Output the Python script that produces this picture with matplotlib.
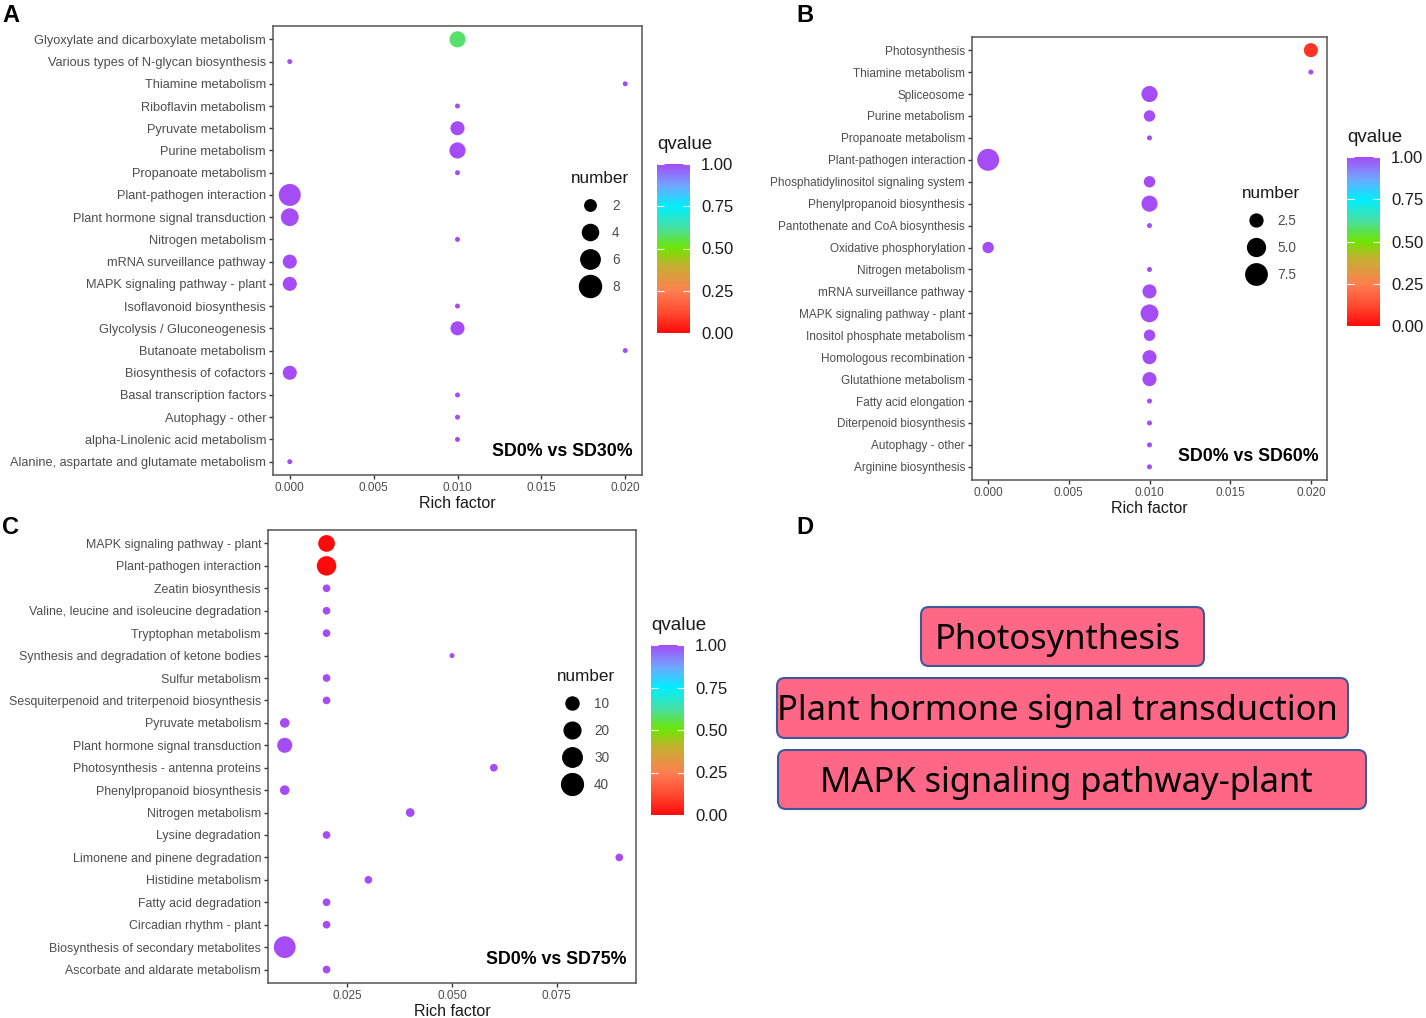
import numpy as np
import matplotlib
matplotlib.use("Agg")
import matplotlib.pyplot as plt
from matplotlib.colors import LinearSegmentedColormap
from matplotlib.cm import ScalarMappable
from matplotlib.colors import Normalize
from matplotlib.patches import FancyBboxPatch
from matplotlib.lines import Line2D

plt.rcParams['font.family'] = ['Liberation Sans', 'DejaVu Sans']

# ---- data (top to bottom as shown) ----
a_terms = ["Glyoxylate and dicarboxylate metabolism", "Various types of N-glycan biosynthesis",
           "Thiamine metabolism", "Riboflavin metabolism", "Pyruvate metabolism", "Purine metabolism",
           "Propanoate metabolism", "Plant-pathogen interaction", "Plant hormone signal transduction",
           "Nitrogen metabolism", "mRNA surveillance pathway", "MAPK signaling pathway - plant",
           "Isoflavonoid biosynthesis", "Glycolysis / Gluconeogenesis", "Butanoate metabolism",
           "Biosynthesis of cofactors", "Basal transcription factors", "Autophagy - other",
           "alpha-Linolenic acid metabolism", "Alanine, aspartate and glutamate metabolism"]
a_rich = [0.010, 0.000, 0.020, 0.010, 0.010, 0.010, 0.010, 0.000, 0.000, 0.010,
          0.000, 0.000, 0.010, 0.010, 0.020, 0.000, 0.010, 0.010, 0.010, 0.000]
a_number = [4, 1, 1, 1, 3, 4, 1, 8, 5, 1, 3, 3, 1, 3, 1, 3, 1, 1, 1, 1]
a_q = [0.58, 1, 1, 1, 1, 1, 1, 1, 1, 1, 1, 1, 1, 1, 1, 1, 1, 1, 1, 1]

b_terms = ["Photosynthesis", "Thiamine metabolism", "Spliceosome", "Purine metabolism",
           "Propanoate metabolism", "Plant-pathogen interaction", "Phosphatidylinositol signaling system",
           "Phenylpropanoid biosynthesis", "Pantothenate and CoA biosynthesis", "Oxidative phosphorylation",
           "Nitrogen metabolism", "mRNA surveillance pathway", "MAPK signaling pathway - plant",
           "Inositol phosphate metabolism", "Homologous recombination", "Glutathione metabolism",
           "Fatty acid elongation", "Diterpenoid biosynthesis", "Autophagy - other", "Arginine biosynthesis"]
b_rich = [0.020, 0.020, 0.010, 0.010, 0.010, 0.000, 0.010, 0.010, 0.010, 0.000,
          0.010, 0.010, 0.010, 0.010, 0.010, 0.010, 0.010, 0.010, 0.010, 0.010]
b_number = [3, 1, 4, 2, 1, 8, 2, 4, 1, 2, 1, 3, 5, 2, 3, 3, 1, 1, 1, 1]
b_q = [0.08, 1, 1, 1, 1, 1, 1, 1, 1, 1, 1, 1, 1, 1, 1, 1, 1, 1, 1, 1]

c_terms = ["MAPK signaling pathway - plant", "Plant-pathogen interaction", "Zeatin biosynthesis",
           "Valine, leucine and isoleucine degradation", "Tryptophan metabolism",
           "Synthesis and degradation of ketone bodies", "Sulfur metabolism",
           "Sesquiterpenoid and triterpenoid biosynthesis", "Pyruvate metabolism",
           "Plant hormone signal transduction", "Photosynthesis - antenna proteins",
           "Phenylpropanoid biosynthesis", "Nitrogen metabolism", "Lysine degradation",
           "Limonene and pinene degradation", "Histidine metabolism", "Fatty acid degradation",
           "Circadian rhythm - plant", "Biosynthesis of secondary metabolites",
           "Ascorbate and aldarate metabolism"]
c_rich = [0.020, 0.020, 0.020, 0.020, 0.020, 0.050, 0.020, 0.020, 0.010, 0.010,
          0.060, 0.010, 0.040, 0.020, 0.090, 0.030, 0.020, 0.020, 0.010, 0.020]
c_number = [20, 30, 2, 2, 2, 1, 2, 2, 4, 15, 2, 4, 3, 2, 2, 2, 2, 2, 40, 2]
c_q = [0.0, 0.0, 1, 1, 1, 1, 1, 1, 1, 1, 1, 1, 1, 1, 1, 1, 1, 1, 1, 1]

d_terms = ["Photosynthesis", "Plant hormone signal transduction", "MAPK signaling pathway-plant"]

# ---- styling ----
W, H = 1426, 1018
DPI = 100
qcmap = LinearSegmentedColormap.from_list("qv", [
    (0.00, "#ff0a0a"), (0.12, "#ff4a30"), (0.25, "#ff8050"), (0.40, "#c4b030"),
    (0.50, "#70e400"), (0.62, "#48e0a0"), (0.75, "#00eeff"), (0.87, "#6ea8ff"),
    (1.00, "#a64cf6")])
GREY = "#4d4d4d"


def fr(x0, y0, x1, y1):
    return [x0 / W, 1 - y1 / H, (x1 - x0) / W, (y1 - y0) / H]


def dot_size(n, nmin, nmax):
    d_px = 5 + 17 * np.sqrt((np.asarray(n, float) - nmin) / (nmax - nmin))
    return (d_px * 72 / DPI) ** 2


def bubble_panel(box, terms, rich, number, q, xlim, xticks, xfmt, nmin, nmax,
                 breaks, blabels, leg_xy, tag, cbox, yfs):
    ax = fig.add_axes(fr(*box))
    y = np.arange(len(terms))[::-1]
    ax.scatter(rich, y, s=dot_size(number, nmin, nmax), c=q, cmap=qcmap, vmin=0, vmax=1,
               edgecolors="none", zorder=3)
    ax.set_yticks(y)
    ax.set_yticklabels(terms, fontsize=yfs, color=GREY)
    ax.set_ylim(-0.6, len(terms) - 0.4)
    ax.set_xlim(*xlim)
    ax.set_xticks(xticks)
    ax.set_xticklabels([xfmt % v for v in xticks], fontsize=8.5, color=GREY)
    ax.set_xlabel("Rich factor", fontsize=11.5, color="#1a1a1a", labelpad=1.5)
    ax.tick_params(length=3, width=1, color="#333333", pad=2)
    for sp in ax.spines.values():
        sp.set_color("#555555")
        sp.set_linewidth(1.1)
    ax.text(0.975, 0.033, tag, transform=ax.transAxes, ha="right", va="bottom",
            fontsize=12.8, fontweight="bold", color="black")
    handles = [Line2D([], [], ls="none", marker="o", color="black",
                      markersize=np.sqrt(dot_size(b, nmin, nmax))) for b in breaks]
    leg = ax.legend(handles, blabels, title="number", loc="upper left",
                    bbox_to_anchor=(leg_xy[0] / W, 1 - leg_xy[1] / H),
                    bbox_transform=fig.transFigure, frameon=False, fontsize=9.8,
                    title_fontsize=12.3, handlelength=1.4, handletextpad=0.9,
                    labelspacing=0.95, borderpad=0, borderaxespad=0)
    for t in leg.get_texts():
        t.set_color(GREY)
    leg.get_title().set_color("#1a1a1a")
    # qvalue colourbar
    cax = fig.add_axes(fr(*cbox))
    cb = fig.colorbar(ScalarMappable(norm=Normalize(0, 1), cmap=qcmap), cax=cax,
                      ticks=[0, 0.25, 0.5, 0.75, 1.0])
    cb.outline.set_visible(False)
    cb.ax.set_yticklabels(["0.00", "0.25", "0.50", "0.75", "1.00"], fontsize=12, color="#1a1a1a")
    cb.ax.tick_params(direction="in", color="white", length=5, width=0.8,
                      left=True, right=True, pad=8)
    cax.set_title("qvalue", fontsize=13.5, loc="left", color="#1a1a1a", pad=11)
    return ax


fig = plt.figure(figsize=(W / DPI, H / DPI), dpi=DPI)

bubble_panel((273, 26, 642, 475), a_terms, a_rich, a_number, a_q,
             (-0.001, 0.021), [0.000, 0.005, 0.010, 0.015, 0.020], "%.3f",
             1, 8, [2, 4, 6, 8], ["2", "4", "6", "8"], (571, 171), "SD0% vs SD30%",
             (657, 164, 690, 333), 9.2)
bubble_panel((972, 37, 1327, 480), b_terms, b_rich, b_number, b_q,
             (-0.001, 0.021), [0.000, 0.005, 0.010, 0.015, 0.020], "%.3f",
             1, 8, [2.5, 5.0, 7.5], ["2.5", "5.0", "7.5"], (1242, 186), "SD0% vs SD60%",
             (1347, 157, 1380, 326), 8.5)
bubble_panel((268, 530, 636, 983), c_terms, c_rich, c_number, c_q,
             (0.006, 0.094), [0.025, 0.050, 0.075], "%.3f",
             1, 41, [10, 20, 30, 40], ["10", "20", "30", "40"], (557, 669), "SD0% vs SD75%",
             (651, 645, 684, 815), 8.9)

# panel D: highlighted pathways
axd = fig.add_axes(fr(760, 590, 1380, 830))
axd.set_xlim(760, 1380)
axd.set_ylim(830, 590)
axd.axis("off")
d_boxes = [(921, 607, 1204, 666), (777, 678, 1348, 738), (778, 750, 1366, 809)]
d_text_x = [1058, 1057, 1066]
for term, (x0, y0, x1, y1), tx in zip(d_terms, d_boxes, d_text_x):
    axd.add_patch(FancyBboxPatch((x0, y0), x1 - x0, y1 - y0,
                                 boxstyle="round,pad=0,rounding_size=8",
                                 fc="#ff6787", ec="#3c5a9a", lw=1.5))
    axd.text(tx, (y0 + y1) / 2 + 3.5, term, ha="center", va="center", fontsize=24.8,
             family=["Noto Sans", "DejaVu Sans"], fontweight="medium", color="black")

# panel letters
for letter, x, y in [("A", 2, 15), ("B", 796, 15), ("C", 2, 528), ("D", 796, 528)]:
    fig.text(x / W, 1 - y / H, letter, fontsize=17, fontweight="bold", ha="left", va="center")

fig.savefig("out.png", dpi=DPI)
